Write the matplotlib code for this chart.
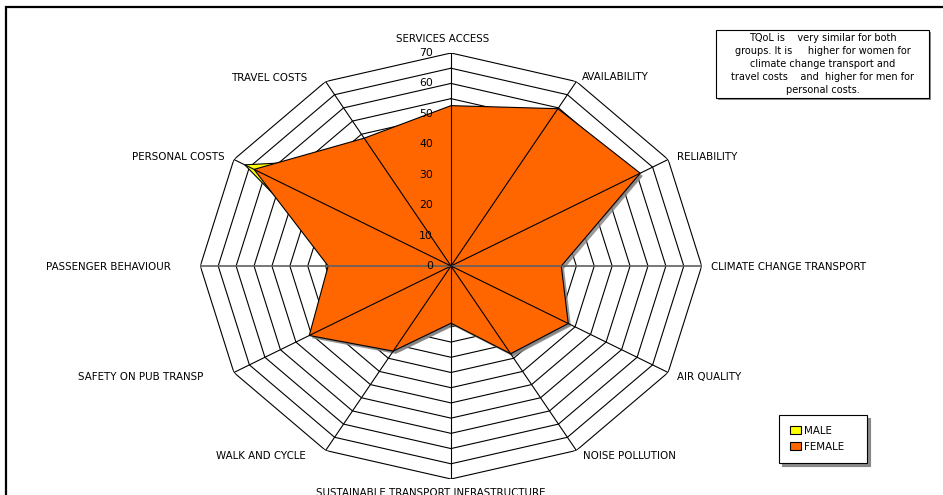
import numpy as np
import matplotlib
matplotlib.use("Agg")
import matplotlib.pyplot as plt
from matplotlib.patches import Rectangle, Patch
import matplotlib.patheffects as pe

plt.rcParams['font.family'] = ['DejaVu Sans']

categories = ["SERVICES ACCESS", "AVAILABILITY", "RELIABILITY", "CLIMATE CHANGE TRANSPORT",
              "AIR QUALITY", "NOISE POLLUTION", "SUSTAINABLE TRANSPORT INFRASTRUCTURE",
              "WALK AND CYCLE", "SAFETY ON PUB TRANSP", "PASSENGER BEHAVIOUR",
              "PERSONAL COSTS", "TRAVEL COSTS"]
female = [52.7, 59.7, 61.0, 30.8, 37.8, 33.3, 18.8, 32.3, 45.7, 34.3, 63.5, 48.5]
male = [52.3, 59.3, 60.6, 28.5, 37.4, 33.0, 18.5, 32.0, 45.3, 30.0, 66.5, 41.0]
rticks = [0, 10, 20, 30, 40, 50, 60, 70]
rings = list(range(5, 75, 5))
note = ("TQoL is    very similar for both\n"
        "groups. It is     higher for women for\n"
        "climate change transport and\n"
        "travel costs    and  higher for men for\n"
        "personal costs.")

W, H = 943, 495
fig = plt.figure(figsize=(W / 100, H / 100), dpi=100)
ax = fig.add_axes([200.3 / W, 16 / H, 501.4 / W, 426 / H], projection='polar')
ax.set_aspect('auto')
ax.set_theta_zero_location('N')
ax.set_theta_direction(-1)
ax.set_ylim(0, 70)
ax.set_axis_off()

n = len(categories)
theta = np.arange(n) * 2 * np.pi / n
theta_c = np.append(theta, theta[0])

for r in rings:
    ax.plot(theta_c, [r] * (n + 1), color='black', lw=0.8, zorder=1)

shadow = [pe.SimplePatchShadow(offset=(2, -2), shadow_rgbFace='#808080', alpha=0.8), pe.Normal()]
m = ax.fill(theta_c, male + male[:1], facecolor='#FFFF00', edgecolor='black', lw=0.8, zorder=2)
for p in m:
    p.set_path_effects(shadow)
f = ax.fill(theta_c, female + female[:1], facecolor='#FF6600', edgecolor='black', lw=0.8, zorder=3)
for p in f:
    p.set_path_effects(shadow)

for i, t in enumerate(theta):
    horiz = i in (3, 9)
    ax.plot([t, t], [0, 70], color='#606060' if horiz else 'black',
            lw=1.2 if horiz else 0.8, zorder=4)

for v in rticks:
    ax.annotate(str(v), xy=(0, v), xytext=(-18, 0), textcoords='offset pixels',
                ha='right', va='center', fontsize=7.8, zorder=6)

offsets = [(-8, 15, 'center'), (6, 6, 'left'), (9, 3.5, 'left'), (9, 0, 'left'),
           (9, -3.5, 'left'), (6.6, -4.5, 'left'), (-20, -13, 'center'),
           (-20, -4.5, 'right'), (-31, -3.5, 'right'), (-29.5, 0, 'right'),
           (-9, 3.5, 'right'), (-18.6, 4.5, 'right')]
for t, lab, (dx, dy, ha) in zip(theta, categories, offsets):
    ax.annotate(lab, xy=(t, 70), xytext=(dx, dy), textcoords='offset pixels',
                ha=ha, va='center_baseline', fontsize=7.4, annotation_clip=False)

# note box
box = Rectangle((716 / W, 1 - 98 / H), 213 / W, 68 / H, transform=fig.transFigure,
                facecolor='white', edgecolor='black', lw=0.8)
box.set_path_effects([pe.SimplePatchShadow(offset=(1.5, -1.5), shadow_rgbFace='#808080', alpha=0.9), pe.Normal()])
fig.patches.append(box)
fig.text(822.5 / W, 1 - 64 / H, note, ha='center', va='center', multialignment='center',
         fontsize=7, linespacing=1.35)

# legend
handles = [Patch(facecolor='#FFFF00', edgecolor='black', lw=0.8, label='MALE'),
           Patch(facecolor='#FF6600', edgecolor='black', lw=0.8, label='FEMALE')]
leg = fig.legend(handles=handles, loc='upper left',
                 bbox_to_anchor=(779 / W, 1 - 464 / H, 88 / W, 49 / H), mode='expand',
                 bbox_transform=fig.transFigure, borderaxespad=0, fancybox=False,
                 shadow={'color': '#808080', 'alpha': 0.9}, fontsize=7.4,
                 handlelength=1.1, handleheight=0.85, handletextpad=0.25,
                 labelspacing=0.6, borderpad=1.05, frameon=True)
leg.get_frame().set_edgecolor('black')
leg.get_frame().set_linewidth(0.8)

# outer frame
fig.patches.append(Rectangle((6 / W, -0.1), 1.2, (H - 6.7) / H + 0.1, transform=fig.transFigure,
                             fill=False, edgecolor='black', lw=1.6))

fig.savefig('out.png', dpi=100)
